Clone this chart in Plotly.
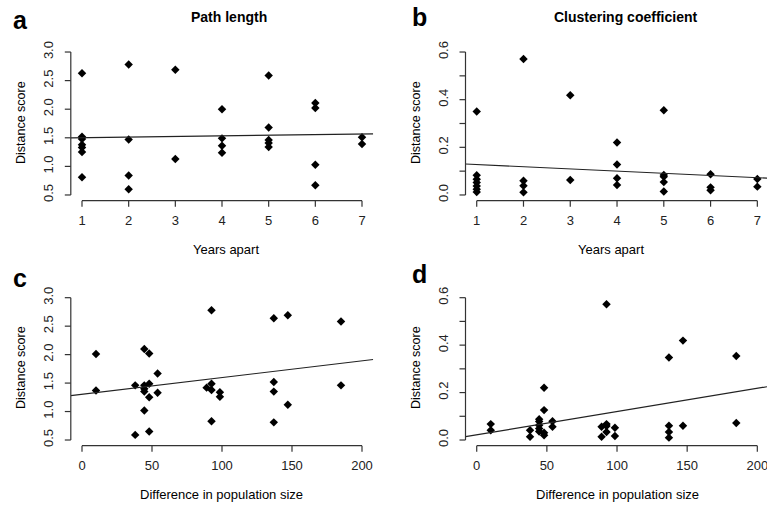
import plotly.graph_objects as go

# ---------------- data ----------------
# Panel a: Path length vs years apart
a_x = [1, 1, 1, 1, 1, 1, 1, 2, 2, 2, 2, 3, 3, 4, 4, 4, 4, 5, 5, 5, 5, 5, 6, 6, 6, 6, 7, 7]
a_y = [2.63, 1.52, 1.48, 1.38, 1.33, 1.25, 0.81,
       2.78, 1.47, 0.84, 0.60,
       2.69, 1.13,
       2.00, 1.49, 1.36, 1.24,
       2.59, 1.68, 1.46, 1.41, 1.34,
       2.11, 2.02, 1.03, 0.67,
       1.51, 1.39]
a_fit = (1.49, 0.011)   # intercept, slope

# Panel b: Clustering coefficient vs years apart
b_x = [1, 1, 1, 1, 1, 1, 1, 2, 2, 2, 2, 3, 3, 4, 4, 4, 4, 5, 5, 5, 5, 5, 6, 6, 6, 7, 7]
b_y = [0.350, 0.083, 0.066, 0.052, 0.038, 0.024, 0.012,
       0.571, 0.060, 0.039, 0.011,
       0.419, 0.063,
       0.220, 0.128, 0.070, 0.042,
       0.356, 0.084, 0.077, 0.054, 0.015,
       0.087, 0.032, 0.020,
       0.067, 0.035]
b_fit = (0.137, -0.0092)

# Panel c: Path length vs difference in population size
c_x = [10, 10, 38, 38, 44.5, 44.5, 44.5, 44.5, 44.5, 48, 48, 48, 48, 54, 54,
       89, 92.5, 92.5, 92.5, 92.5, 98.5, 98.5, 137, 137, 137, 137, 147, 147, 185, 185]
c_y = [2.01, 1.37, 1.46, 0.59, 2.10, 1.46, 1.40, 1.35, 1.02, 2.02, 1.49, 1.25, 0.65,
       1.67, 1.33, 1.42, 2.78, 1.49, 1.38, 0.83, 1.34, 1.26, 2.64, 1.52, 1.35, 0.81,
       2.69, 1.12, 2.58, 1.46]
c_fit = (1.303, 0.00294)

# Panel d: Clustering coefficient vs difference in population size
d_x = [10, 10, 38, 38, 44.5, 44.5, 44.5, 44.5, 44.5, 48, 48, 48, 48, 54, 54,
       89, 89, 92.5, 92.5, 92.5, 92.5, 98.5, 98.5, 137, 137, 137, 137, 147, 147, 185, 185]
d_y = [0.067, 0.041, 0.041, 0.014, 0.088, 0.078, 0.062, 0.048, 0.036, 0.220, 0.126, 0.031, 0.020,
       0.079, 0.056, 0.056, 0.014, 0.572, 0.067, 0.059, 0.034, 0.052, 0.017,
       0.348, 0.060, 0.034, 0.010, 0.419, 0.060, 0.354, 0.072]
d_fit = (0.0219, 0.00098)

years_ticks = [1, 2, 3, 4, 5, 6, 7]
pop_ticks = [0, 50, 100, 150, 200]
path_ticks = [0.5, 1.0, 1.5, 2.0, 2.5, 3.0]
path_labels = ["0.5", "1.0", "1.5", "2.0", "2.5", "3.0"]
clus_ticks = [0.0, 0.1, 0.2, 0.3, 0.4, 0.5, 0.6]
clus_labels = ["0.0", "", "0.2", "", "0.4", "", "0.6"]

titles = {"a": "Path length", "b": "Clustering coefficient"}
xlab_years = "Years apart"
xlab_pop = "Difference in population size"
ylab = "Distance score"

# ---------------- layout geometry ----------------
W, H = 767, 509
FONT = "Liberation Sans, Arial, sans-serif"
TICKLEN = 6

def px_x(p):
    return p / W

def px_y(p):
    return 1 - p / H

dom_left = [px_x(70.8), px_x(373.2)]
dom_right = [px_x(465.5), 1.0]
dom_top = [px_y(200.7), px_y(46.3)]
dom_bot = [px_y(445.7), px_y(292.0)]

panels = [
    ("a", a_x, a_y, a_fit, dom_left, dom_top, [0.76, 7.24], [0.4, 3.1], years_ticks, path_ticks, path_labels),
    ("b", b_x, b_y, b_fit, dom_right, dom_top, [0.76, 0.76 + (767 - 465.5) / 46.77], [-0.024, 0.624], years_ticks, clus_ticks, clus_labels),
    ("c", c_x, c_y, c_fit, dom_left, dom_bot, [-8, 208], [0.4, 3.1], pop_ticks, path_ticks, path_labels),
    ("d", d_x, d_y, d_fit, dom_right, dom_bot, [-8, -8 + (767 - 465.5) / 1.403], [-0.024, 0.624], pop_ticks, clus_ticks, clus_labels),
]

fig = go.Figure()
axis_color = "#333333"
frame_x, frame_y = [], []   # R-style axis lines + tick marks, in paper fractions

for i, (name, xs, ys, fit, xd, yd, xr, yr, xt, yt, yl) in enumerate(panels):
    n = "" if i == 0 else str(i + 1)
    xa, ya = "x" + n, "y" + n
    fig.add_trace(go.Scatter(
        x=xs, y=ys, mode="markers", xaxis=xa, yaxis=ya,
        marker=dict(symbol="diamond", size=6.5, color="black", line=dict(width=0)),
        showlegend=False, hoverinfo="x+y", cliponaxis=False))
    b0, b1 = fit
    lx = [xr[0], xr[1]]
    ly = [b0 + b1 * v for v in lx]
    fig.add_trace(go.Scatter(
        x=lx, y=ly, mode="lines", xaxis=xa, yaxis=ya,
        line=dict(color="#222222", width=1.2), showlegend=False, hoverinfo="skip"))
    tickfont = dict(family=FONT, size=13, color="#222222")
    fig.layout["xaxis" + n] = dict(
        domain=xd, range=xr, anchor=ya, showgrid=False, zeroline=False, showline=False,
        automargin=False,
        tickmode="array", tickvals=xt, ticktext=[str(v) for v in xt],
        ticks="", tickfont=tickfont, ticklabelstandoff=4 + TICKLEN,
        ticklabeloverflow="allow", fixedrange=True)
    fig.layout["yaxis" + n] = dict(
        domain=yd, range=yr, anchor=xa, showgrid=False, zeroline=False, showline=False,
        automargin=False,
        tickmode="array", tickvals=yt, ticktext=yl, tickangle=-90,
        ticks="", tickfont=tickfont, ticklabelstandoff=8 + TICKLEN,
        ticklabeloverflow="allow", fixedrange=True)

    # axis frame derived from tick arrays, axis ranges and domains
    def to_px(v):
        return xd[0] + (v - xr[0]) / (xr[1] - xr[0]) * (xd[1] - xd[0])

    def to_py(v):
        return yd[0] + (v - yr[0]) / (yr[1] - yr[0]) * (yd[1] - yd[0])

    # x axis line and ticks
    frame_x += [to_px(xt[0]), to_px(xt[-1]), None]
    frame_y += [yd[0], yd[0], None]
    for t in xt:
        frame_x += [to_px(t), to_px(t), None]
        frame_y += [yd[0], yd[0] - TICKLEN / H, None]
    # y axis line and ticks
    frame_x += [xd[0], xd[0], None]
    frame_y += [to_py(yt[0]), to_py(yt[-1]), None]
    for t in yt:
        frame_x += [xd[0], xd[0] - TICKLEN / W, None]
        frame_y += [to_py(t), to_py(t), None]

# overlay paper-space subplot for the axis frames
fig.add_trace(go.Scatter(
    x=frame_x, y=frame_y, mode="lines", xaxis="x5", yaxis="y5",
    line=dict(color=axis_color, width=1.2), showlegend=False, hoverinfo="skip",
    connectgaps=False))
fig.layout["xaxis5"] = dict(domain=[0, 1], range=[0, 1], anchor="y5", visible=False,
                            fixedrange=True, automargin=False)
fig.layout["yaxis5"] = dict(domain=[0, 1], range=[0, 1], anchor="x5", visible=False,
                            fixedrange=True, automargin=False)

annotations = []

def ann(text, x, y, size, bold=False, angle=0, xanchor="center"):
    annotations.append(dict(
        text=("<b>%s</b>" % text) if bold else text, x=px_x(x), y=px_y(y),
        xref="paper", yref="paper", showarrow=False, textangle=angle,
        xanchor=xanchor, yanchor="middle",
        font=dict(family=FONT, size=size, color="black")))

# panel letters
ann("a", 20, 20, 25, bold=True)
ann("b", 419, 17, 25, bold=True)
ann("c", 20, 278, 25, bold=True)
ann("d", 419, 274, 25, bold=True)
# panel titles
ann(titles["a"], 229, 17, 14, bold=True)
ann(titles["b"], 625, 17, 14, bold=True)
# x axis titles
ann(xlab_years, 226, 249, 13)
ann(xlab_years, 611, 249, 13)
ann(xlab_pop, 222, 494, 13)
ann(xlab_pop, 617, 494, 13)
# y axis titles
ann(ylab, 21, 123, 12.5, angle=-90)
ann(ylab, 416, 123, 12.5, angle=-90)
ann(ylab, 21, 368, 12.5, angle=-90)
ann(ylab, 416, 368, 12.5, angle=-90)

fig.update_layout(
    width=W, height=H, margin=dict(l=0, r=0, t=0, b=0, autoexpand=False),
    paper_bgcolor="white", plot_bgcolor="rgba(0,0,0,0)",
    annotations=annotations,
    font=dict(family=FONT, color="black"))

fig.write_html(
    "out.html",
    config={"displayModeBar": False},
    post_script="document.body.style.margin='0px';document.body.style.overflow='hidden';")
